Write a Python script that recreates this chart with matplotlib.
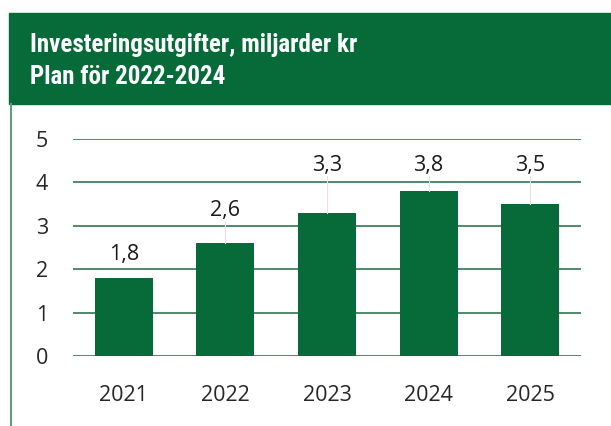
import matplotlib.pyplot as plt
from matplotlib import font_manager
from matplotlib.patches import Rectangle
from matplotlib.lines import Line2D

years = ['2021', '2022', '2023', '2024', '2025']
values = [1.8, 2.6, 3.3, 3.8, 3.5]
labels = ['1,8', '2,6', '3,3', '3,8', '3,5']
# where the data labels sit (Excel-style, pulled down below the top)
label_y = [2.33, 3.36, 4.4, 4.4, 4.4]

green = '#066b38'

installed = {f.name for f in font_manager.fontManager.ttflist}
narrow = [n for n in ['Liberation Sans Narrow', 'Roboto Condensed', 'Arial Narrow',
                      'Nimbus Sans Narrow', 'DejaVu Sans Condensed'] if n in installed]
if narrow:
    title_font, title_size = [narrow[0], 'DejaVu Sans'], 18
else:
    title_font, title_size = ['Roboto', 'DejaVu Sans'], 16

fig = plt.figure(figsize=(6.11, 4.26), dpi=100)
fig.patch.set_facecolor('white')

# header band and left frame line
fig.patches.append(Rectangle((9 / 611, 1 - 104 / 426), 1, 91 / 426,
                             transform=fig.transFigure, color=green, zorder=0))
fig.lines.append(Line2D([10.5 / 611, 10.5 / 611], [0, 1 - 104 / 426],
                        transform=fig.transFigure, color='#5f9e7c', lw=1.5))

fig.text(30 / 611, 1 - 45 / 426, 'Investeringsutgifter, miljarder kr', color='white',
         fontsize=title_size, fontweight='bold', family=title_font, va='center')
fig.text(30 / 611, 1 - 77 / 426, 'Plan för 2022-2024', color='white',
         fontsize=title_size, fontweight='bold', family=title_font, va='center')

ax = fig.add_axes([73 / 611, 1 - 356 / 426, 508 / 611, 217 / 426])
x = range(len(years))
ax.bar(x, values, width=0.57, color=green, zorder=3)
ax.set_ylim(0, 5)
ax.set_xlim(-0.5, len(years) - 0.5)
ax.set_yticks(range(6))
ax.yaxis.grid(True, color='#1f6b40', lw=1.1, zorder=0)
ax.set_xticks(list(x))
ax.set_xticklabels(years)
ax.tick_params(length=0, labelsize=15.5, colors='#262626')
for lab in ax.get_xticklabels() + ax.get_yticklabels():
    lab.set_family(['Open Sans', 'DejaVu Sans'])
ax.tick_params(axis='x', pad=21)
ax.tick_params(axis='y', pad=18)
for s in ax.spines.values():
    s.set_visible(False)

for i, (v, t, ly) in enumerate(zip(values, labels, label_y)):
    ax.text(i, ly, t, ha='center', va='center', fontsize=15.5, color='#1a1a1a',
            family=['Open Sans', 'DejaVu Sans'], zorder=5)
    if ly - v > 0.6:
        ax.plot([i, i], [v, ly - 0.25], color='#f3dde3', lw=0.8, zorder=4)

fig.savefig('out.png', dpi=100)
